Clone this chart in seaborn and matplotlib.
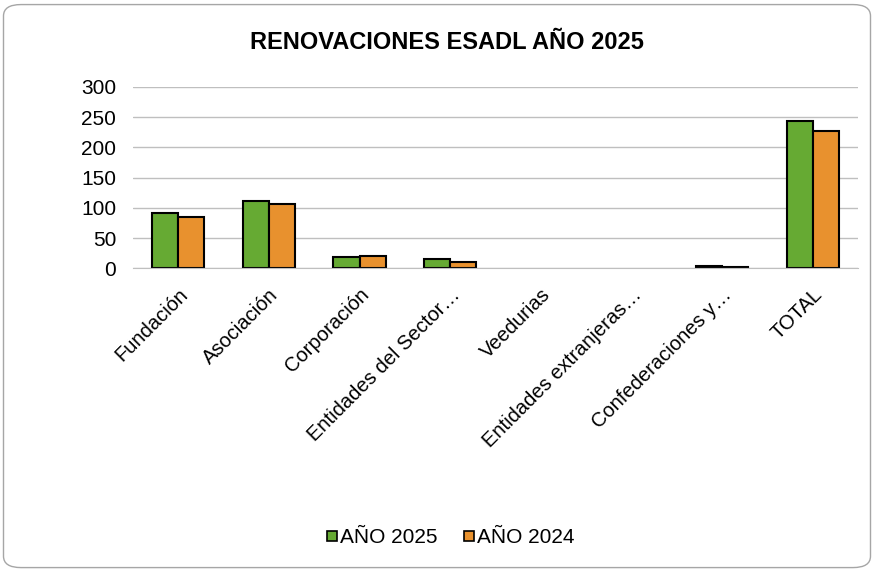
import pandas as pd
import seaborn as sns
import matplotlib.pyplot as plt
from matplotlib.patches import FancyBboxPatch
from matplotlib.lines import Line2D

# Data
categories = ["Fundación", "Asociación", "Corporación", "Entidades del Sector…",
              "Veedurias", "Entidades extranjeras…", "Confederaciones y…", "TOTAL"]
anio_2025 = [92, 112, 19, 15, 0, 0, 4, 244]
anio_2024 = [85, 106, 20, 11, 0, 0, 3, 227]
series = ["AÑO 2025", "AÑO 2024"]
colors = ["#66AA33", "#E8912E"]

df = pd.DataFrame({
    "categoria": categories * 2,
    "valor": anio_2025 + anio_2024,
    "serie": [series[0]] * len(categories) + [series[1]] * len(categories),
})

sns.set_style("white")
plt.rcParams["font.family"] = ["Liberation Sans", "DejaVu Sans"]
plt.rcParams["text.color"] = "black"
plt.rcParams["xtick.color"] = "black"
plt.rcParams["ytick.color"] = "black"

fig = plt.figure(figsize=(8.74, 5.71), dpi=100)
ax = fig.add_axes([0.152, 0.530, 0.830, 0.318])

sns.barplot(data=df, x="categoria", y="valor", hue="serie", palette=colors,
            width=0.575, gap=0, edgecolor="black", linewidth=1.5,
            saturation=1, legend=False, ax=ax)

# hide outlines of empty bars
for bar in ax.patches:
    if bar.get_height() == 0:
        bar.set_linewidth(0)

ax.set_ylim(0, 300)
ax.set_yticks(range(0, 301, 50))
ax.yaxis.grid(True, color="#BFBFBF", linewidth=1)
ax.set_axisbelow(True)
for side in ["top", "right", "left"]:
    ax.spines[side].set_visible(False)
ax.spines["bottom"].set_color("#BFBFBF")
ax.tick_params(axis="y", length=0, labelsize=15, pad=12)
ax.tick_params(axis="x", length=0, labelsize=14.5, pad=12)
ax.set_xlabel("")
ax.set_ylabel("")
ax.set_xticks(range(len(categories)))
ax.set_xticklabels(categories, rotation=45, ha="right", rotation_mode="anchor")

fig.text(0.511, 0.925, "RENOVACIONES ESADL AÑO 2025", ha="center", va="center",
         fontsize=17, fontweight="bold")

handles = [Line2D([], [], marker="s", linestyle="", markersize=7.5,
                  markerfacecolor=c, markeredgecolor="black", markeredgewidth=1.2)
           for c in colors]
fig.legend(handles, series, loc="center", bbox_to_anchor=(0.515, 0.058), ncol=2,
           frameon=False, fontsize=15, handletextpad=0.1, columnspacing=1.2,
           handlelength=0.6)

border = FancyBboxPatch((0.004, 0.006), 0.992, 0.986, boxstyle="round,pad=0,rounding_size=0.02",
                        transform=fig.transFigure, facecolor="none",
                        edgecolor="#A6A6A6", linewidth=1)
fig.patches.append(border)

fig.savefig("out.png", dpi=100)
